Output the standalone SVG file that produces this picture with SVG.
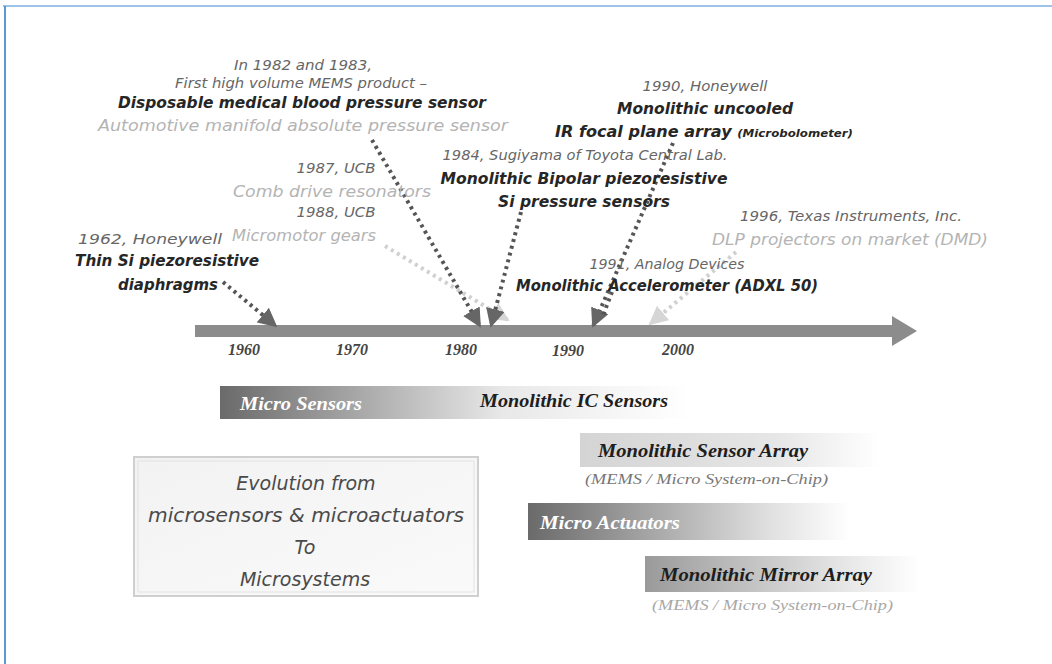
<svg xmlns="http://www.w3.org/2000/svg" width="1052" height="664" viewBox="0 0 1052 664">
<style>
.a{font-family:"DejaVu Sans",Verdana,sans-serif;font-style:italic;text-anchor:middle}
.y{font-size:13.5px;fill:#666}
.b{font-size:15px;font-weight:bold;fill:#262626}
.l{font-size:15px;fill:#b4b4b4}
.yr{font-family:"Liberation Serif",serif;font-style:italic;font-weight:bold;font-size:16px;fill:#444;text-anchor:middle}
.s{font-family:"Liberation Serif",serif;font-style:italic;font-weight:bold;font-size:19px}
.sub{font-family:"Liberation Serif",serif;font-style:italic;font-size:14px}
.ev{font-family:"DejaVu Sans",sans-serif;font-style:italic;font-weight:200;font-size:19px;fill:#4a4a4a;text-anchor:middle}
.dk{fill:none;stroke:#555;stroke-width:4;stroke-dasharray:3 4}
.lt{fill:none;stroke:#d0d0d0;stroke-width:4;stroke-dasharray:3 4}
</style>
<defs>
<marker id="hd" viewBox="0 0 10 10" refX="9" refY="5" markerWidth="19" markerHeight="19" markerUnits="userSpaceOnUse" orient="auto"><path d="M0,0 L10,5 L0,10 z" fill="#666"/></marker>
<marker id="hl" viewBox="0 0 10 10" refX="9" refY="5" markerWidth="19" markerHeight="19" markerUnits="userSpaceOnUse" orient="auto"><path d="M0,0 L10,5 L0,10 z" fill="#d6d6d6"/></marker>
<linearGradient id="gDark" x1="0" y1="0" x2="1" y2="0"><stop offset="0" stop-color="#6a6a6a"/><stop offset="0.6" stop-color="#e8e8e8"/><stop offset="1" stop-color="#ffffff"/></linearGradient>
<linearGradient id="gAct" x1="0" y1="0" x2="1" y2="0"><stop offset="0" stop-color="#6a6a6a"/><stop offset="0.75" stop-color="#e0e0e0"/><stop offset="1" stop-color="#ffffff"/></linearGradient>
<linearGradient id="gLight" x1="0" y1="0" x2="1" y2="0"><stop offset="0" stop-color="#d4d4d4"/><stop offset="0.65" stop-color="#e6e6e6"/><stop offset="1" stop-color="#ffffff"/></linearGradient>
<linearGradient id="gMid" x1="0" y1="0" x2="1" y2="0"><stop offset="0" stop-color="#9a9a9a"/><stop offset="0.7" stop-color="#e4e4e4"/><stop offset="1" stop-color="#ffffff"/></linearGradient>
<linearGradient id="gBox" x1="0" y1="0" x2="1" y2="1"><stop offset="0" stop-color="#f2f2f2"/><stop offset="1" stop-color="#fafafa"/></linearGradient>
</defs>
<rect width="1052" height="664" fill="#ffffff"/>
<g id="frame">
<line x1="3" y1="6" x2="1052" y2="6" stroke="#9dc3e6" stroke-width="2"/>
<line x1="5" y1="6" x2="5" y2="664" stroke="#5b9bd5" stroke-width="2"/>
</g>
<g id="timeline">
<rect x="195" y="325" width="700" height="12" fill="#8c8c8c"/>
<polygon points="892,316 917,331 892,346" fill="#8c8c8c"/>
<text class="yr" x="244" y="355">1960</text>
<text class="yr" x="352" y="355">1970</text>
<text class="yr" x="461" y="355">1980</text>
<text class="yr" x="568" y="356">1990</text>
<text class="yr" x="678" y="355">2000</text>
</g>
<g id="connectors">
<path class="lt" d="M385,246 L508,320" marker-end="url(#hl)"/>
<path class="lt" d="M736,252 L650,324" marker-end="url(#hl)"/>
<path class="dk" d="M223,282 L276,326" marker-end="url(#hd)"/>
<path class="dk" d="M372,140 L480,326" marker-end="url(#hd)"/>
<path class="dk" d="M521,212 L491,326" marker-end="url(#hd)"/>
<path class="dk" d="M673,143 L593,326" marker-end="url(#hd)"/>
<path class="dk" d="M612,292 L602,318"/>
</g>
<g id="n1982">
<text class="a y" x="303" y="70" textLength="138" lengthAdjust="spacingAndGlyphs">In 1982 and 1983,</text>
<text class="a y" x="301" y="88" textLength="252" lengthAdjust="spacingAndGlyphs">First high volume MEMS product –</text>
<text class="a b" x="302" y="108" textLength="368" lengthAdjust="spacingAndGlyphs">Disposable medical blood pressure sensor</text>
<text class="a l" x="303" y="131" textLength="410" lengthAdjust="spacingAndGlyphs">Automotive manifold absolute pressure sensor</text>
</g>
<g id="n1990">
<text class="a y" x="705" y="91" textLength="125" lengthAdjust="spacingAndGlyphs">1990, Honeywell</text>
<text class="a b" x="705" y="114" textLength="176" lengthAdjust="spacingAndGlyphs">Monolithic uncooled</text>
<text class="a b" x="704" y="137" textLength="298" lengthAdjust="spacingAndGlyphs"><tspan>IR focal plane array </tspan><tspan font-size="11px">(Microbolometer)</tspan></text>
</g>
<g id="n1984">
<text class="a y" x="585" y="160" textLength="285" lengthAdjust="spacingAndGlyphs">1984, Sugiyama of Toyota Central Lab.</text>
<text class="a b" x="584" y="184" textLength="287" lengthAdjust="spacingAndGlyphs">Monolithic Bipolar piezoresistive</text>
<text class="a b" x="584" y="207" textLength="172" lengthAdjust="spacingAndGlyphs">Si pressure sensors</text>
</g>
<g id="nUCB">
<text class="a y" x="336" y="173" textLength="79" lengthAdjust="spacingAndGlyphs">1987, UCB</text>
<text class="a l" x="332" y="197" textLength="198" lengthAdjust="spacingAndGlyphs">Comb drive resonators</text>
<text class="a y" x="336" y="217" textLength="79" lengthAdjust="spacingAndGlyphs">1988, UCB</text>
<text class="a l" x="304" y="241" textLength="144" lengthAdjust="spacingAndGlyphs">Micromotor gears</text>
</g>
<g id="n1962">
<text class="a y" x="150" y="244" textLength="144" lengthAdjust="spacingAndGlyphs">1962, Honeywell</text>
<text class="a b" x="167" y="266" textLength="184" lengthAdjust="spacingAndGlyphs">Thin Si piezoresistive</text>
<text class="a b" x="168" y="290" textLength="100" lengthAdjust="spacingAndGlyphs">diaphragms</text>
</g>
<g id="n1996">
<text class="a y" x="851" y="221" textLength="222" lengthAdjust="spacingAndGlyphs">1996, Texas Instruments, Inc.</text>
<text class="a l" x="850" y="245" textLength="276" lengthAdjust="spacingAndGlyphs">DLP projectors on market (DMD)</text>
</g>
<g id="n1991">
<text class="a y" x="667" y="269" textLength="155" lengthAdjust="spacingAndGlyphs">1991, Analog Devices</text>
<text class="a b" x="667" y="291" textLength="302" lengthAdjust="spacingAndGlyphs">Monolithic Accelerometer (ADXL 50)</text>
</g>
<g id="microSensors">
<rect x="220" y="386" width="470" height="33" fill="url(#gDark)"/>
<text class="s" x="240" y="410" fill="#ffffff" textLength="122" lengthAdjust="spacingAndGlyphs">Micro Sensors</text>
<text class="s" x="480" y="407" fill="#1e1e1e" textLength="188" lengthAdjust="spacingAndGlyphs">Monolithic IC Sensors</text>
</g>
<g id="sensorArray">
<rect x="580" y="433" width="300" height="34" fill="url(#gLight)"/>
<text class="s" x="598" y="457" fill="#1e1e1e" textLength="210" lengthAdjust="spacingAndGlyphs">Monolithic Sensor Array</text>
<text class="sub" x="585" y="484" fill="#777" textLength="243" lengthAdjust="spacingAndGlyphs">(MEMS / Micro System-on-Chip)</text>
</g>
<g id="microActuators">
<rect x="528" y="503" width="322" height="37" fill="url(#gAct)"/>
<text class="s" x="540" y="529" fill="#ffffff" textLength="140" lengthAdjust="spacingAndGlyphs">Micro Actuators</text>
</g>
<g id="mirrorArray">
<rect x="645" y="556" width="275" height="36" fill="url(#gMid)"/>
<text class="s" x="660" y="581" fill="#1e1e1e" textLength="212" lengthAdjust="spacingAndGlyphs">Monolithic Mirror Array</text>
<text class="sub" x="652" y="610" fill="#a8a8a8" textLength="241" lengthAdjust="spacingAndGlyphs">(MEMS / Micro System-on-Chip)</text>
</g>
<g id="evolution">
<rect x="134" y="457" width="344" height="139" fill="url(#gBox)" stroke="#cfcfcf" stroke-width="2"/>
<rect x="138" y="461" width="336" height="131" fill="none" stroke="#e2e2e2" stroke-width="1"/>
<text class="ev" x="306" y="490">Evolution from</text>
<text class="ev" x="306" y="522" textLength="316" lengthAdjust="spacingAndGlyphs">microsensors &amp; microactuators</text>
<text class="ev" x="305" y="554">To</text>
<text class="ev" x="305" y="586">Microsystems</text>
</g>
</svg>
